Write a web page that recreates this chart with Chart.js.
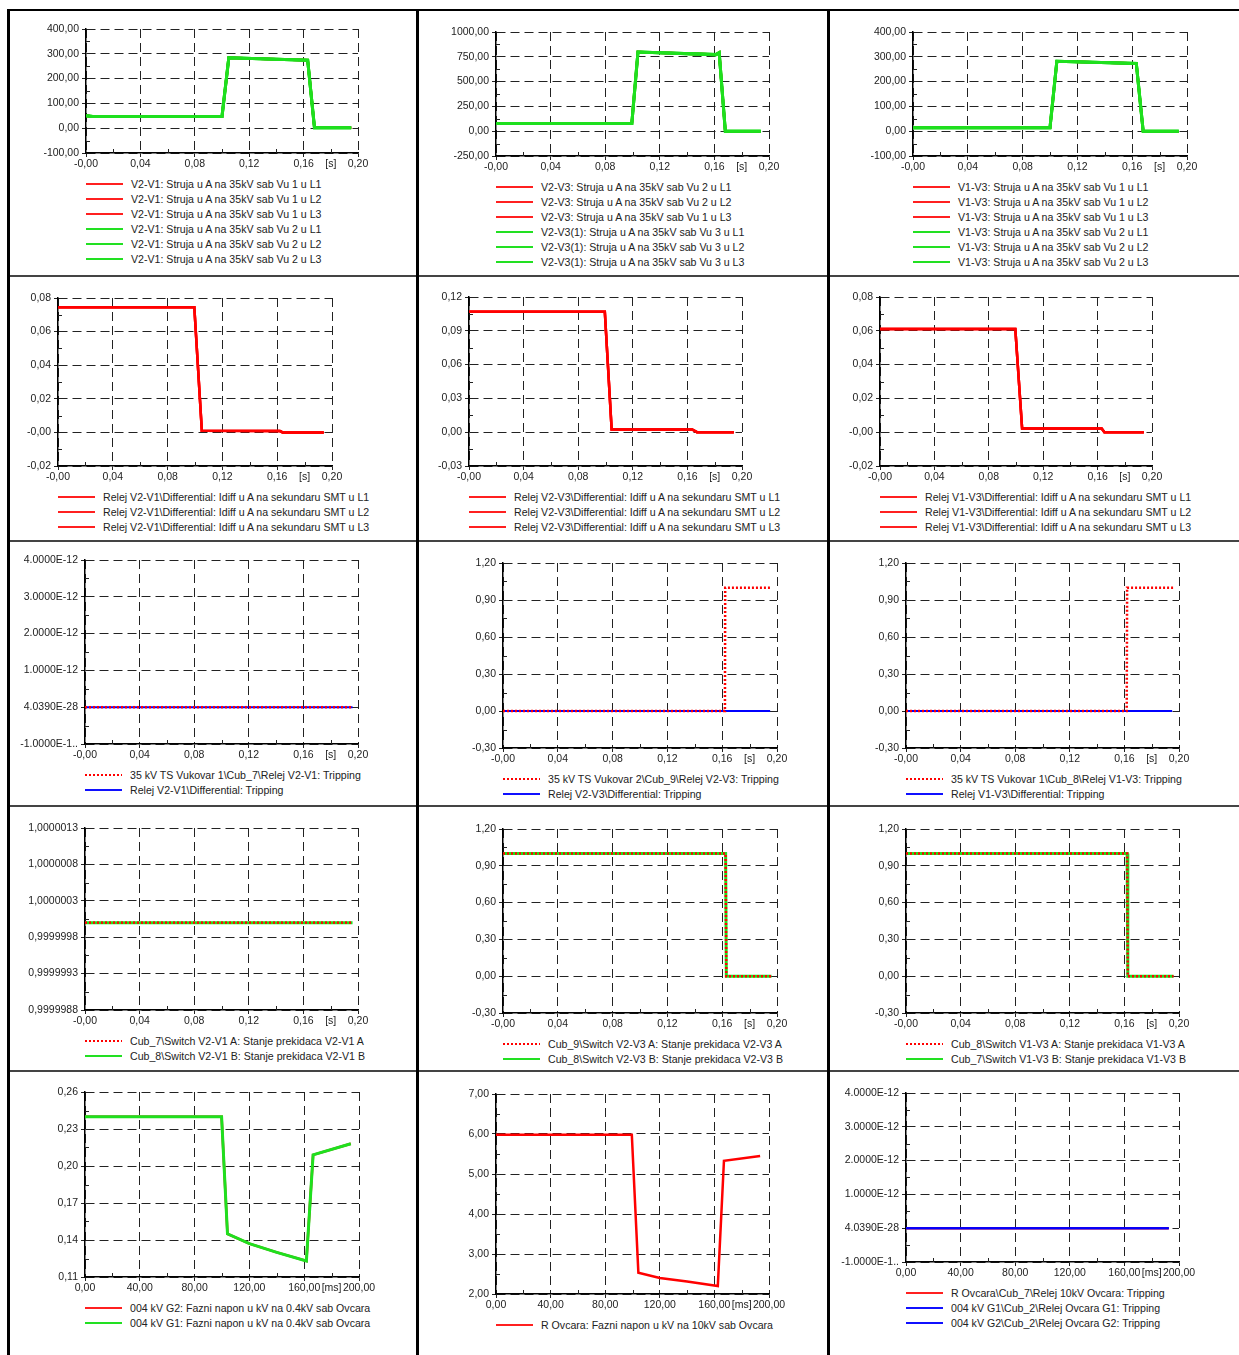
<!DOCTYPE html>
<html>
<head>
<meta charset="utf-8">
<script src="https://cdn.jsdelivr.net/npm/chart.js@4.4.0/dist/chart.umd.min.js"></script>
<style>
body { margin: 0; background: #fff; font-family: "Liberation Sans", Arial, sans-serif; }
#page { position: relative; width: 1239px; height: 1355px; overflow: hidden; background: #fff; }
canvas { position: absolute; }
.rule { position: absolute; }
.leg { position: absolute; height: 12px; font-size: 10.6px; color: #222; white-space: nowrap; line-height: 12px; }
.leg i { position: absolute; left: 0; top: 5px; width: 37px; height: 2px; }
.leg span { position: absolute; left: 45px; top: 0; }
</style>
</head>
<body>
<div id="page"></div>
<script>
// x axes
const xTicksS = [0, 0.04, 0.08, 0.12, 0.16, 0.20];
const xLabelsS = ['-0,00', '0,04', '0,08', '0,12', '0,16', '0,20'];
const xTicksMs = [0, 40, 80, 120, 160, 200];
const xLabelsMs = ['0,00', '40,00', '80,00', '120,00', '160,00', '200,00'];

// y axes
const yTicks400 = [-100, 0, 100, 200, 300, 400];
const yLabels400 = ['-100,00', '0,00', '100,00', '200,00', '300,00', '400,00'];
const yTicks1000 = [-250, 0, 250, 500, 750, 1000];
const yLabels1000 = ['-250,00', '0,00', '250,00', '500,00', '750,00', '1000,00'];
const yTicksD08 = [-0.02, 0, 0.02, 0.04, 0.06, 0.08];
const yLabelsD08 = ['-0,02', '-0,00', '0,02', '0,04', '0,06', '0,08'];
const yTicksD12 = [-0.03, 0, 0.03, 0.06, 0.09, 0.12];
const yLabelsD12 = ['-0,03', '0,00', '0,03', '0,06', '0,09', '0,12'];
const yTicksE12 = [-1e-12, 0, 1e-12, 2e-12, 3e-12, 4e-12];
const yLabelsE12 = ['-1.0000E-1..', '4.0390E-28', '1.0000E-12', '2.0000E-12', '3.0000E-12', '4.0000E-12'];
const yTicks120 = [-0.3, 0, 0.3, 0.6, 0.9, 1.2];
const yLabels120 = ['-0,30', '0,00', '0,30', '0,60', '0,90', '1,20'];
const yTicksSw = [0.9999988, 0.9999993, 0.9999998, 1.0000003, 1.0000008, 1.0000013];
const yLabelsSw = ['0,9999988', '0,9999993', '0,9999998', '1,0000003', '1,0000008', '1,0000013'];
const yTicksU04 = [0.11, 0.14, 0.17, 0.20, 0.23, 0.26];
const yLabelsU04 = ['0,11', '0,14', '0,17', '0,20', '0,23', '0,26'];
const yTicksU10 = [2, 3, 4, 5, 6, 7];
const yLabelsU10 = ['2,00', '3,00', '4,00', '5,00', '6,00', '7,00'];

// row 1: currents [A]
const tV2V1 = [0, 0.005, 0.1, 0.105, 0.163, 0.168, 0.195];
const iV2V1Vu1 = [50, 47, 47, 284, 274, 2, 2];
const iV2V1Vu2 = [50, 47, 47, 284, 274, 2, 2];
const tV2V3 = [0, 0.0995, 0.104, 0.161, 0.1635, 0.168, 0.194];
const iV2V3Vu2 = [78, 78, 798, 772, 792, 0, 0];
const iV2V3Vu3 = [78, 78, 798, 772, 792, 0, 0];
const tV1V3 = [0, 0.1, 0.105, 0.163, 0.168, 0.194];
const iV1V3Vu1 = [14, 14, 282, 273, 0, 0];
const iV1V3Vu2 = [14, 14, 282, 273, 0, 0];

// row 2: Idiff
const tIdV2V1 = [0, 0.0995, 0.105, 0.162, 0.164, 0.194];
const idV2V1 = [0.0745, 0.0745, 0.001, 0.0008, 0, 0];
const tIdV2V3 = [0, 0.0995, 0.1045, 0.1635, 0.167, 0.194];
const idV2V3 = [0.107, 0.107, 0.0025, 0.0025, 0, 0];
const tIdV1V3 = [0, 0.0995, 0.1045, 0.163, 0.165, 0.194];
const idV1V3 = [0.061, 0.061, 0.0022, 0.0022, 0, 0];

// row 3: tripping
const tTripV2V1 = [0, 0.196];
const tripV2V1 = [0, 0];
const diffTripV2V1 = [0, 0];
const tTripV2V3 = [0, 0.162, 0.1622, 0.1963];
const tripV2V3 = [0, 0, 1, 1];
const tDiffTripV2V3 = [0, 0.195];
const diffTripV2V3 = [0, 0];
const tTripV1V3 = [0, 0.1617, 0.162, 0.196];
const tripV1V3 = [0, 0, 1, 1];
const tDiffTripV1V3 = [0, 0.195];
const diffTripV1V3 = [0, 0];

// row 4: breaker state
const tSwV2V1 = [0, 0.196];
const swAV2V1 = [1, 1];
const swBV2V1 = [1, 1];
const tSwV2V3 = [0, 0.1625, 0.163, 0.196];
const swAV2V3 = [1, 1, 0, 0];
const swBV2V3 = [1, 1, 0, 0];
const tSwV1V3 = [0, 0.162, 0.1625, 0.196];
const swAV1V3 = [1, 1, 0, 0];
const swBV1V3 = [1, 1, 0, 0];

// row 5: Ovcara [ms]
const tG = [0, 99.7, 104, 120, 140, 161.6, 166.5, 194];
const uG2 = [0.24, 0.24, 0.145, 0.137, 0.130, 0.123, 0.209, 0.218];
const uG1 = [0.24, 0.24, 0.145, 0.137, 0.130, 0.123, 0.209, 0.218];
const tR = [0, 99.5, 104.3, 120, 140, 162.5, 167, 193.5];
const uR = [5.98, 5.98, 2.53, 2.40, 2.31, 2.20, 5.33, 5.45];
const tOvTrip = [0, 192.5];
const tripROv = [0, 0];
const tripG1 = [0, 0];
const tripG2 = [0, 0];

const styles = {
  red:    { color: '#ff0000', width: 2.5, dash: [], order: 2, leg: 'background:#ff2020' },
  green:  { color: '#1ee01e', width: 3, dash: [], order: 1, leg: 'background:#22e022' },
  blue:   { color: '#0000ff', width: 2, dash: [], order: 1, leg: 'background:#1010ff' },
  redDot: { color: '#ff0000', width: 2.5, dash: [2, 2], order: 0, leg: 'background:repeating-linear-gradient(90deg,#ff0000 0 2px,transparent 2px 4px)' }
};

const S = 's', MS = 'ms';
const charts = [
  { col: 0, box: [86, 29, 358, 153], x: S, yt: yTicks400, yl: yLabels400, series: [
    ['V2-V1: Struja u A na 35kV sab Vu 1 u L1', tV2V1, iV2V1Vu1, 'red'],
    ['V2-V1: Struja u A na 35kV sab Vu 1 u L2', tV2V1, iV2V1Vu1, 'red'],
    ['V2-V1: Struja u A na 35kV sab Vu 1 u L3', tV2V1, iV2V1Vu1, 'red'],
    ['V2-V1: Struja u A na 35kV sab Vu 2 u L1', tV2V1, iV2V1Vu2, 'green'],
    ['V2-V1: Struja u A na 35kV sab Vu 2 u L2', tV2V1, iV2V1Vu2, 'green'],
    ['V2-V1: Struja u A na 35kV sab Vu 2 u L3', tV2V1, iV2V1Vu2, 'green']] },
  { col: 1, box: [496, 32, 769, 156], x: S, yt: yTicks1000, yl: yLabels1000, series: [
    ['V2-V3: Struja u A na 35kV sab Vu 2 u L1', tV2V3, iV2V3Vu2, 'red'],
    ['V2-V3: Struja u A na 35kV sab Vu 2 u L2', tV2V3, iV2V3Vu2, 'red'],
    ['V2-V3: Struja u A na 35kV sab Vu 1 u L3', tV2V3, iV2V3Vu2, 'red'],
    ['V2-V3(1): Struja u A na 35kV sab Vu 3 u L1', tV2V3, iV2V3Vu3, 'green'],
    ['V2-V3(1): Struja u A na 35kV sab Vu 3 u L2', tV2V3, iV2V3Vu3, 'green'],
    ['V2-V3(1): Struja u A na 35kV sab Vu 3 u L3', tV2V3, iV2V3Vu3, 'green']] },
  { col: 2, box: [913, 32, 1187, 156], x: S, yt: yTicks400, yl: yLabels400, series: [
    ['V1-V3: Struja u A na 35kV sab Vu 1 u L1', tV1V3, iV1V3Vu1, 'red'],
    ['V1-V3: Struja u A na 35kV sab Vu 1 u L2', tV1V3, iV1V3Vu1, 'red'],
    ['V1-V3: Struja u A na 35kV sab Vu 1 u L3', tV1V3, iV1V3Vu1, 'red'],
    ['V1-V3: Struja u A na 35kV sab Vu 2 u L1', tV1V3, iV1V3Vu2, 'green'],
    ['V1-V3: Struja u A na 35kV sab Vu 2 u L2', tV1V3, iV1V3Vu2, 'green'],
    ['V1-V3: Struja u A na 35kV sab Vu 2 u L3', tV1V3, iV1V3Vu2, 'green']] },
  { col: 0, box: [58, 298, 332, 466], x: S, yt: yTicksD08, yl: yLabelsD08, series: [
    ['Relej V2-V1\\Differential: Idiff u A na sekundaru SMT u L1', tIdV2V1, idV2V1, 'red'],
    ['Relej V2-V1\\Differential: Idiff u A na sekundaru SMT u L2', tIdV2V1, idV2V1, 'red'],
    ['Relej V2-V1\\Differential: Idiff u A na sekundaru SMT u L3', tIdV2V1, idV2V1, 'red']] },
  { col: 1, box: [469, 297, 742, 466], x: S, yt: yTicksD12, yl: yLabelsD12, series: [
    ['Relej V2-V3\\Differential: Idiff u A na sekundaru SMT u L1', tIdV2V3, idV2V3, 'red'],
    ['Relej V2-V3\\Differential: Idiff u A na sekundaru SMT u L2', tIdV2V3, idV2V3, 'red'],
    ['Relej V2-V3\\Differential: Idiff u A na sekundaru SMT u L3', tIdV2V3, idV2V3, 'red']] },
  { col: 2, box: [880, 297, 1152, 466], x: S, yt: yTicksD08, yl: yLabelsD08, series: [
    ['Relej V1-V3\\Differential: Idiff u A na sekundaru SMT u L1', tIdV1V3, idV1V3, 'red'],
    ['Relej V1-V3\\Differential: Idiff u A na sekundaru SMT u L2', tIdV1V3, idV1V3, 'red'],
    ['Relej V1-V3\\Differential: Idiff u A na sekundaru SMT u L3', tIdV1V3, idV1V3, 'red']] },
  { col: 0, box: [85, 560, 358, 744], x: S, yt: yTicksE12, yl: yLabelsE12, series: [
    ['35 kV TS Vukovar 1\\Cub_7\\Relej V2-V1: Tripping', tTripV2V1, tripV2V1, 'redDot'],
    ['Relej V2-V1\\Differential: Tripping', tTripV2V1, diffTripV2V1, 'blue']] },
  { col: 1, box: [503, 563, 777, 748], x: S, yt: yTicks120, yl: yLabels120, series: [
    ['35 kV TS Vukovar 2\\Cub_9\\Relej V2-V3: Tripping', tTripV2V3, tripV2V3, 'redDot'],
    ['Relej V2-V3\\Differential: Tripping', tDiffTripV2V3, diffTripV2V3, 'blue']] },
  { col: 2, box: [906, 563, 1179, 748], x: S, yt: yTicks120, yl: yLabels120, series: [
    ['35 kV TS Vukovar 1\\Cub_8\\Relej V1-V3: Tripping', tTripV1V3, tripV1V3, 'redDot'],
    ['Relej V1-V3\\Differential: Tripping', tDiffTripV1V3, diffTripV1V3, 'blue']] },
  { col: 0, box: [85, 828, 358, 1010], x: S, yt: yTicksSw, yl: yLabelsSw, series: [
    ['Cub_7\\Switch V2-V1 A: Stanje prekidaca V2-V1 A', tSwV2V1, swAV2V1, 'redDot'],
    ['Cub_8\\Switch V2-V1 B: Stanje prekidaca V2-V1 B', tSwV2V1, swBV2V1, 'green']] },
  { col: 1, box: [503, 829, 777, 1013], x: S, yt: yTicks120, yl: yLabels120, series: [
    ['Cub_9\\Switch V2-V3 A: Stanje prekidaca V2-V3 A', tSwV2V3, swAV2V3, 'redDot'],
    ['Cub_8\\Switch V2-V3 B: Stanje prekidaca V2-V3 B', tSwV2V3, swBV2V3, 'green']] },
  { col: 2, box: [906, 829, 1179, 1013], x: S, yt: yTicks120, yl: yLabels120, series: [
    ['Cub_8\\Switch  V1-V3 A: Stanje prekidaca V1-V3 A', tSwV1V3, swAV1V3, 'redDot'],
    ['Cub_7\\Switch  V1-V3 B: Stanje prekidaca V1-V3 B', tSwV1V3, swBV1V3, 'green']] },
  { col: 0, box: [85, 1092, 359, 1277], x: MS, yt: yTicksU04, yl: yLabelsU04, series: [
    ['004 kV G2: Fazni napon u kV na 0.4kV sab Ovcara', tG, uG2, 'red'],
    ['004 kV G1: Fazni napon u kV na 0.4kV sab Ovcara', tG, uG1, 'green']] },
  { col: 1, box: [496, 1094, 769, 1294], x: MS, yt: yTicksU10, yl: yLabelsU10, series: [
    ['R Ovcara: Fazni napon u kV na 10kV sab Ovcara', tR, uR, 'red']] },
  { col: 2, box: [906, 1093, 1179, 1262], x: MS, yt: yTicksE12, yl: yLabelsE12, series: [
    ['R Ovcara\\Cub_7\\Relej 10kV Ovcara: Tripping', tOvTrip, tripROv, 'red'],
    ['004 kV G1\\Cub_2\\Relej Ovcara G1: Tripping', tOvTrip, tripG1, 'blue'],
    ['004 kV G2\\Cub_2\\Relej Ovcara G2: Tripping', tOvTrip, tripG2, 'blue']] }
];

const colLeft = [11, 421, 831];
const page = document.getElementById('page');

function rule(x, y, w, h, c) {
  const d = document.createElement('div');
  d.className = 'rule';
  d.style.cssText = `left:${x}px;top:${y}px;width:${w}px;height:${h}px;background:${c}`;
  page.appendChild(d);
}
rule(7, 9, 1232, 2, '#000');
[275, 540, 805, 1070].forEach(y => rule(7, y, 1232, 2, '#444'));
[7, 416, 827].forEach(x => rule(x, 9, 3, 1346, '#000'));

// small inside ticks half way between the major ones
const minorTicks = {
  id: 'minorTicks',
  beforeDatasetsDraw(chart, args, opts) {
    const { ctx, chartArea: a, scales } = chart;
    ctx.save();
    ctx.strokeStyle = '#222';
    ctx.lineWidth = 1;
    ctx.beginPath();
    for (let i = 0; i < opts.x.length - 1; i++) {
      const px = Math.round(scales.x.getPixelForValue((opts.x[i] + opts.x[i + 1]) / 2)) + 0.5;
      ctx.moveTo(px, a.bottom); ctx.lineTo(px, a.bottom - 4);
    }
    for (let i = 0; i < opts.y.length - 1; i++) {
      const py = Math.round(scales.y.getPixelForValue((opts.y[i] + opts.y[i + 1]) / 2)) + 0.5;
      ctx.moveTo(a.left, py); ctx.lineTo(a.left + 4, py);
    }
    ctx.stroke();
    ctx.restore();
  }
};

Chart.defaults.font.family = '"Liberation Sans", Arial, sans-serif';
Chart.defaults.font.size = 10.5;
Chart.defaults.color = '#222';

charts.forEach(c => {
  const [l, t, r, b] = c.box;
  const left = colLeft[c.col];
  const yw = l - left, padTop = 10, padRight = 24, xh = 22;
  const cv = document.createElement('canvas');
  const W = yw + (r - l) + padRight, H = padTop + (b - t) + xh;
  cv.width = W; cv.height = H;
  cv.style.left = left + 'px'; cv.style.top = (t - padTop) + 'px';
  cv.style.width = W + 'px'; cv.style.height = H + 'px';
  page.appendChild(cv);

  const xt = c.x === S ? xTicksS : xTicksMs;
  const xl = c.x === S ? xLabelsS : xLabelsMs;
  const unitPos = (xt[xt.length - 2] + xt[xt.length - 1]) / 2;
  const xVals = xt.slice(0, -1).concat([unitPos, xt[xt.length - 1]]);
  const xLbls = xl.slice(0, -1).concat(['[' + c.x + ']', xl[xl.length - 1]]);
  const unitIdx = xt.length - 1;

  const datasets = c.series.map(([label, tt, vv, st]) => {
    const s = styles[st];
    return {
      label,
      data: tt.map((x, i) => ({ x, y: vv[i] })),
      borderColor: s.color,
      borderWidth: s.width,
      borderDash: s.dash,
      order: s.order,
      pointRadius: 0,
      tension: 0,
      fill: false
    };
  });

  new Chart(cv.getContext('2d'), {
    type: 'line',
    data: { datasets },
    options: {
      responsive: false,
      animation: false,
      events: [],
      layout: { padding: { left: 0, top: padTop, right: padRight, bottom: 0 } },
      plugins: { legend: { display: false }, tooltip: { enabled: false }, minorTicks: { x: xt, y: c.yt } },
      scales: {
        x: {
          type: 'linear', min: xt[0], max: xt[xt.length - 1],
          afterBuildTicks: s => { s.ticks = xVals.map(v => ({ value: v })); },
          afterFit: s => { s.height = xh; },
          ticks: { autoSkip: false, maxRotation: 0, minRotation: 0, padding: 1, callback: (v, i) => xLbls[i] },
          grid: { color: g => g.index === unitIdx ? 'rgba(0,0,0,0)' : '#222', lineWidth: 1, tickLength: 4 },
          border: { color: '#000', width: 1.5, dash: [9, 5] }
        },
        y: {
          type: 'linear', min: c.yt[0], max: c.yt[c.yt.length - 1],
          afterBuildTicks: s => { s.ticks = c.yt.map(v => ({ value: v })); },
          afterFit: s => { s.width = yw; },
          ticks: { autoSkip: false, padding: 3, callback: (v, i) => c.yl[i] },
          grid: { color: '#222', lineWidth: 1, tickLength: 4 },
          border: { color: '#000', width: 1.5, dash: [9, 5] }
        }
      }
    },
    plugins: [minorTicks]
  });

  // legend list under the plot
  c.series.forEach(([label, , , st], k) => {
    const row = document.createElement('div');
    row.className = 'leg';
    row.style.left = l + 'px';
    row.style.top = (b + 25 + k * 15) + 'px';
    const ln = document.createElement('i');
    ln.style.cssText = styles[st].leg;
    const tx = document.createElement('span');
    tx.textContent = label;
    row.appendChild(ln); row.appendChild(tx);
    page.appendChild(row);
  });
});
</script>
</body>
</html>
